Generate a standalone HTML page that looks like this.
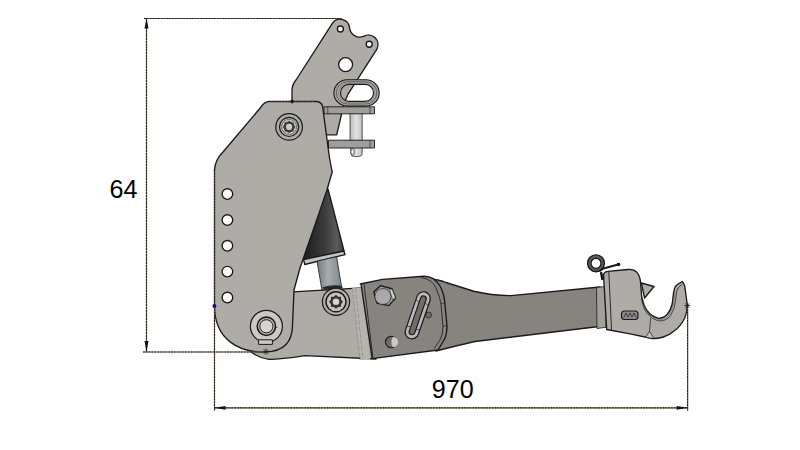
<!DOCTYPE html>
<html><head><meta charset="utf-8">
<style>
html,body{margin:0;padding:0;background:#fff;width:800px;height:450px;overflow:hidden}
svg{display:block}
text{font-family:"Liberation Sans",sans-serif}
</style></head>
<body>
<svg width="800" height="450" viewBox="0 0 800 450">
<defs>
<linearGradient id="cyl" x1="0" y1="0" x2="1" y2="0">
<stop offset="0" stop-color="#1c1c1c"/><stop offset="0.55" stop-color="#3e3e3e"/><stop offset="0.82" stop-color="#5a5a5a"/><stop offset="1" stop-color="#404040"/>
</linearGradient>
<linearGradient id="rod" x1="0" y1="0" x2="1" y2="0">
<stop offset="0" stop-color="#737b80"/><stop offset="0.45" stop-color="#a6adb1"/><stop offset="1" stop-color="#7f878b"/>
</linearGradient>
<linearGradient id="pin" x1="0" y1="0" x2="1" y2="0">
<stop offset="0" stop-color="#b8b8b8"/><stop offset="0.5" stop-color="#e2e2e2"/><stop offset="1" stop-color="#c0c0c0"/>
</linearGradient>
</defs>
<g stroke="#1a1a1a" stroke-width="1.35" stroke-linejoin="round">
<!-- upper plate -->
<path fill="#afaca8" d="M332.2,23.7 A9.4,9.4 0 0 1 349.6,28.3 Q350.6,34  356.5,36.6 Q360,37.8 363.6,36.4 A9.6,9.6 0 0 1 376.9,49.2 L348.2,93.8 Q343.5,103 342,112 L336.7,134.8 L327,134.8 L292,134.8 L292,91 Q292,84.5 296,80 Z"/>
<circle cx="340.4" cy="29" r="3" fill="#fff"/>
<circle cx="369.2" cy="44.2" r="3" fill="#fff"/>
<circle cx="345.6" cy="64.6" r="7" fill="#fff"/>
<!-- shackle ring -->
<path fill="#a8a5a1" stroke-width="1.1" fill-rule="evenodd" d="M347.1,79.7 L366,79.7 A13.2,13.2 0 0 1 366,106.1 L347.1,106.1 A13.2,13.2 0 0 1 347.1,79.7 Z M349,84.4 L365,84.4 A8.5,8.5 0 0 1 365,101.4 L349,101.4 A8.5,8.5 0 0 1 349,84.4 Z"/>
<rect x="336.3" y="81.8" width="40.5" height="22.2" rx="11.1" fill="none" stroke-width="0.5"/>
<rect x="338.6" y="83.2" width="36" height="19.4" rx="9.7" fill="none" stroke-width="0.4" stroke="#666"/>
<!-- pin -->
<rect x="350" y="112" width="12.2" height="29" fill="url(#pin)" stroke-width="0.7"/>
<path d="M350.8,147 L362.2,147 L362.2,153 Q362.2,156.5 358,156.5 L354,156.5 Q350.8,156.5 350.8,153 Z" fill="url(#pin)" stroke-width="0.7"/>
<ellipse cx="352.6" cy="151.8" rx="1.8" ry="3.2" fill="#e8e8e8" stroke-width="0.6"/>
<!-- bars -->
<rect x="324" y="106.8" width="50.5" height="7" fill="#a19e9a" stroke-width="0.9"/>
<line x1="327.8" y1="106.8" x2="327.8" y2="113.8" stroke-width="0.6"/>
<line x1="370" y1="106.8" x2="370" y2="113.8" stroke-width="0.6"/>
<rect x="328.5" y="140.2" width="46" height="7.8" fill="#a19e9a" stroke-width="0.9"/>
<line x1="370" y1="140.2" x2="370" y2="148" stroke-width="0.6"/>
<!-- cylinder -->
<polygon points="328,189 344,251 303.6,259.6 305,230" fill="url(#cyl)"/>
<polygon points="303.6,259.6 343.9,251 345,254.7 304.8,264.5" fill="#c4c4c4"/>
<polygon points="317,261 336.6,256.8 341.5,286.5 321.9,290" fill="url(#rod)" stroke-width="0.8"/>
<!-- long arm -->
<path fill="#878480" d="M428,279 Q438,279 446,282.5 L473.75,291.25 Q492,295.5 511,295.6 L600,287 L603,326 L475,341.5 Q455,346 436,351 Z"/>
<!-- arm link plate -->
<path fill="#afaca8" d="M280,292.6 L366,287.6 L376,359 L305,355.6 Q280,359.5 269,359.4 Q258,358 248.5,350 L260,300 Z"/>
<!-- weld strip -->
<polygon points="352,288.3 361,287.5 370,359.5 360.5,360" fill="#b7b4b0" stroke="none"/>
<g stroke="#8a8885" stroke-width="0.7" stroke-dasharray="5,1.5" fill="none">
<line x1="352.5" y1="288" x2="360" y2="360"/>
<line x1="355.5" y1="288" x2="363" y2="360"/>
</g>
<!-- clamp plate -->
<path fill="#878480" d="M360.3,284 L382.5,279.3 L423.75,276.25 Q434,276 440,286 Q444,294 444.5,300 L447,326 Q447,335 444,340 L438,350 L372.2,358.7 L361,284 Z"/>
<path d="M421,277.5 Q432,279 436,288 Q440,297 441,304 L443,326 Q443,334 440,340 L434,348.5" fill="none" stroke-width="0.8"/>
<line x1="441" y1="304" x2="444.5" y2="303" stroke-width="0.6"/>
<line x1="443" y1="326" x2="447" y2="326" stroke-width="0.6"/>
<line x1="364" y1="284" x2="373" y2="358.5" stroke-width="0.8"/>
<!-- main body -->
<path fill="#afaca8" d="M268.9,101.5 L316,101.5 Q321,101.5 322.5,106 L329.5,158 Q331,166 332.2,172 L326.7,190.7 L316,222 L300,268 L294,290 L292.5,325 C292.5,344 282,351.5 265.5,352 C240,353 214.5,340 214.5,306 L214.5,170 Q215,160 223,152 L260,108.3 Q264,102 268.9,101.5 Z"/>
<!-- holes -->
<g fill="#fff">
<circle cx="227.4" cy="194" r="5.3"/>
<circle cx="227.4" cy="220" r="5.3"/>
<circle cx="227.4" cy="245.8" r="5.3"/>
<circle cx="227.4" cy="271.6" r="5.3"/>
<circle cx="227.4" cy="297.5" r="5.3"/>
</g>
<!-- upper bolt -->
<circle cx="289.1" cy="126.9" r="13.3" fill="#afaca8" stroke-width="1.2"/>
<circle cx="289.1" cy="126.9" r="9.6" fill="#b5b2ae" stroke-width="1.2"/>
<circle cx="289.1" cy="126.9" r="7.4" fill="#d2d0cc" stroke-width="0.5"/>
<polygon points="295.30,126.90 294.09,128.97 293.48,131.28 291.17,131.89 289.10,133.10 287.03,131.89 284.72,131.28 284.11,128.97 282.90,126.90 284.11,124.83 284.72,122.52 287.03,121.91 289.10,120.70 291.17,121.91 293.48,122.52 294.09,124.83" fill="#3c3c3c" stroke="none"/>
<circle cx="289.1" cy="126.9" r="3.1" fill="#cdcdcd" stroke="none"/>
<!-- lower pivot washer -->
<circle cx="266.4" cy="326.3" r="16" fill="#ccc9c5" stroke-width="1.2"/>
<rect x="258.6" y="339.8" width="13.8" height="4.6" fill="#ccc9c5" stroke-width="1"/>
<circle cx="266.4" cy="326.3" r="9.2" fill="#bdbab6" stroke-width="1.6"/>
<circle cx="266.4" cy="326.3" r="6.6" fill="#d6d4d0" stroke-width="1"/>
<line x1="275.6" y1="327" x2="277.5" y2="327.5" stroke-width="0.6"/>
<!-- arm bolt -->
<path d="M322,287.5 Q330,284.5 341,285.5 L343,288 L325,289.5 Z" fill="#2a2a2a" stroke="none"/>
<circle cx="336" cy="301.8" r="13.6" fill="#afaca8" stroke-width="1.2"/>
<circle cx="336" cy="301.8" r="10" fill="#c6c3bf" stroke-width="1.4"/>
<polygon points="343.00,301.80 341.17,303.94 340.95,306.75 338.14,306.97 336.00,308.80 333.86,306.97 331.05,306.75 330.83,303.94 329.00,301.80 330.83,299.66 331.05,296.85 333.86,296.63 336.00,294.80 338.14,296.63 340.95,296.85 341.17,299.66" fill="#333" stroke="none"/>
<circle cx="336" cy="301.8" r="3.3" fill="#d6d6d6" stroke="none"/>
<!-- hex bolt -->
<polygon points="373.75,291.9 380.6,285.6 391.9,288.75 395.6,298.1 388.75,305.6 376.9,303.1" fill="#9a9896"/>
<polygon points="391.9,288.75 395.6,298.1 392.6,299.5 389.6,290.5" fill="#cfcfcf" stroke-width="0.5"/>
<circle cx="382.9" cy="296.5" r="8" fill="#a9a9a9" stroke-width="0.6"/>
<circle cx="391.3" cy="342" r="5.8" fill="#6d6b68" stroke-width="1.1"/>
<path d="M393,336.8 A5.2,5.2 0 0 1 393,347.2 Q389.5,342 393,336.8 Z" fill="#c9c9c9" stroke="none"/>
<!-- slot -->
<circle cx="428.5" cy="315" r="3" fill="#6e6c69" stroke-width="0.7"/>
<g transform="translate(417.7,315.3) rotate(19)">
<rect x="-6.8" y="-24.5" width="13.6" height="49" rx="6.8" fill="#b9b9b9" stroke-width="1.2"/>
<rect x="-2.9" y="-20.3" width="5.8" height="40.6" rx="2.9" fill="#6f6c69" stroke-width="1.1"/>
<line x1="-6.6" y1="-14" x2="-3.2" y2="-13" stroke-width="0.6"/>
<line x1="-6.6" y1="14" x2="-3.2" y2="13" stroke-width="0.6"/>
<line x1="3.2" y1="-14" x2="6.6" y2="-13" stroke-width="0.6"/>
<line x1="3.2" y1="14" x2="6.6" y2="13" stroke-width="0.6"/>
</g>
<!-- hook housing -->
<polygon points="596.5,287.5 605,286.5 606,327.3 597,328.5" fill="#a3a09c" stroke-width="0.8"/>
<path fill="#afaca8" d="M603.5,274.5 Q604.5,271.5 607.8,271.3 L628,269.5 Q639.5,268.5 640.6,283 L641.5,295 Q643,305 647,310.5 Q651.5,317 658.75,318.3 Q664,318 667.5,314 Q671,309.5 672.2,304 L673.5,293 Q674.5,287 676.7,285 L682.2,281.5 Q684,283 684.8,286.5 L687.3,305 Q687.2,312 684.8,318 Q680.5,326.5 674.4,330.8 Q669,335.5 663.3,337 Q657,338.8 652.2,338.5 L630,333.8 L606.7,329.5 Z"/>
<path d="M608.8,271.5 L611.5,329.8" fill="none" stroke-width="0.9"/>
<path d="M641.3,298 Q643,309 647.5,313.5 Q652,319.8 660,321 Q667,320.7 670.7,315.5 Q674.7,309 675.5,301 L676.7,291 Q677.7,287 682.3,284" fill="none" stroke-width="0.7"/>
<path d="M643.2,299 Q645,310 649,313.5 Q653.5,318.8 659.5,319.6 Q665.5,319.5 669,315 Q673,309 674,302 L675,292" fill="none" stroke-width="0.45" stroke="#555"/>
<path d="M650.6,318 L649.5,331.5" fill="none" stroke-width="0.7"/>
<path d="M649.5,331.3 L645.5,337.3 L654,338.6 Z" fill="#c4c1bd" stroke-width="0.7"/>
<polygon points="641.3,283 654,286.5 644.6,298" fill="#afaca8"/>
<circle cx="596" cy="263.3" r="8.4" fill="#5a5a5a" stroke-width="1.4"/>
<circle cx="596" cy="263.3" r="5" fill="#fff" stroke-width="1.3"/>
<path d="M599.5,271 Q603,268 607,267.5 L620,264" fill="none" stroke="#1a1a1a" stroke-width="2.2"/>
<path d="M601,272 L602.5,280" fill="none" stroke="#1a1a1a" stroke-width="2.4"/>
<circle cx="618.5" cy="264.5" r="1.8" fill="#1a1a1a" stroke="none"/>
<rect x="621.5" y="311" width="16.5" height="8.5" rx="3" fill="#8a8a8a" stroke-width="1.2"/>
<path d="M624,317 L626,313 L628,317 L630,313 L632,317 L634,313 L636,317" fill="none" stroke-width="0.7"/>
</g>
<!-- dimension lines -->
<g stroke="#8f7d6d" stroke-width="1.15" fill="none">
<line x1="144" y1="18.5" x2="341.5" y2="18.5"/>
<line x1="146.5" y1="18.5" x2="146.5" y2="352"/>
<line x1="143" y1="352" x2="266" y2="352"/>
<line x1="214.5" y1="306" x2="214.5" y2="410.5"/>
<line x1="687.6" y1="306" x2="687.6" y2="410.5"/>
<line x1="214.5" y1="407.8" x2="687.6" y2="407.8"/>
</g>
<g stroke="#2a1e14" stroke-width="1.15" fill="none" stroke-dasharray="2,0.8">
<line x1="144" y1="18.5" x2="341.5" y2="18.5"/>
<line x1="146.5" y1="18.5" x2="146.5" y2="352"/>
<line x1="143" y1="352" x2="266" y2="352"/>
<line x1="214.5" y1="306" x2="214.5" y2="410.5"/>
<line x1="687.6" y1="306" x2="687.6" y2="410.5"/>
<line x1="214.5" y1="407.8" x2="687.6" y2="407.8"/>
</g>
<g fill="#111">
<polygon points="146.5,18.5 144.5,28.5 148.5,28.5"/>
<polygon points="146.5,352 144.5,341 148.5,341"/>
<polygon points="214.5,407.8 225.5,405.9 225.5,409.7"/>
<polygon points="687.6,407.8 676.6,405.9 676.6,409.7"/>
</g>
<path fill="none" stroke="#222" stroke-width="0.8" d="M262.80,351.60 L269.20,351.60 M263.74,349.34 L268.26,353.86 M266.00,348.40 L266.00,354.80 M268.26,349.34 L263.74,353.86 M289.80,101.50 L294.20,101.50 M290.44,99.94 L293.56,103.06 M292.00,99.30 L292.00,103.70 M293.56,99.94 L290.44,103.06 M684.30,305.50 L690.30,305.50 M685.18,303.38 L689.42,307.62 M687.30,302.50 L687.30,308.50 M689.42,303.38 L685.18,307.62 "/>
<path d="M270,101.5 L315,101.5 M292,90 L292,100" fill="none" stroke="#8e8a86" stroke-width="0.8" stroke-dasharray="0.7,2.1"/>
<circle cx="292" cy="101.5" r="1.3" fill="#111"/>
<line x1="214.5" y1="172" x2="214.5" y2="304" stroke="#8e8a86" stroke-width="0.8" stroke-dasharray="0.7,2.1"/>
<circle cx="214.4" cy="306" r="2" fill="#10107a"/>
<text transform="translate(109.6,198.2) scale(0.965,1.0)" x="0" y="0" font-size="26" fill="#000">64</text>
<text transform="translate(431.8,398) scale(0.965,1.015)" x="0" y="0" font-size="26" fill="#000">970</text>
</svg>
</body></html>
